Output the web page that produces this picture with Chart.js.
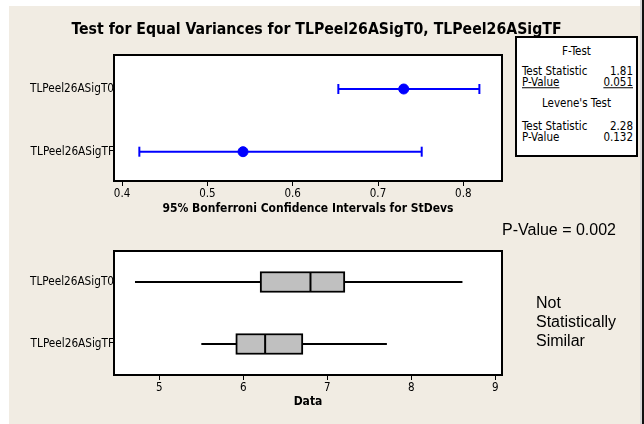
<!DOCTYPE html>
<html>
<head>
<meta charset="utf-8">
<script src="https://cdn.jsdelivr.net/npm/chart.js@4.4.0/dist/chart.umd.min.js"></script>
<style>
  html, body { margin: 0; padding: 0; background: #fff; }
  #page { position: relative; width: 644px; height: 424px; overflow: hidden; background: #fff; }
  #panel { position: absolute; left: 9px; top: 6px; width: 631px; height: 418px; background: #f1ece3; }
  #edgeLight { position: absolute; left: 640px; top: 0; width: 2px; height: 424px; background: #d8d8d8; }
  #edgeDark { position: absolute; left: 642px; top: 0; width: 2px; height: 424px; background: #111; }
  canvas { position: absolute; left: 0; }
  .t { position: absolute; white-space: nowrap; color: #000; transform: translateY(-50%); line-height: 1; }
  .tah { font-family: "DejaVu Sans Condensed", "DejaVu Sans", sans-serif; font-stretch: condensed; }
  .ari { font-family: "Liberation Sans", Arial, sans-serif; font-size: 16px; }
  #title { left: 0; width: 633px; top: 29px; text-align: center; font-weight: bold; font-size: 15.7px; }
  #stats { position: absolute; left: 515px; top: 36px; width: 123px; height: 121px; box-sizing: border-box;
           border: 2px solid #000; background: #fff; }
  .st { font-size: 11.5px; }
  .u { text-decoration: underline; }
</style>
</head>
<body>
<div id="page">
  <div id="panel"></div>
  <div id="edgeLight"></div>
  <div id="edgeDark"></div>
  <canvas id="sdChart" width="644" height="220" style="top:0"></canvas>
  <canvas id="boxChart" width="644" height="204" style="top:220px"></canvas>

  <div id="title" class="t tah">Test for Equal Variances for TLPeel26ASigT0, TLPeel26ASigTF</div>

  <div id="stats"></div>
  <div class="t tah st" style="left:516px;width:121px;text-align:center;top:52px">F-Test</div>
  <div class="t tah st" style="left:522px;top:72px">Test Statistic</div>
  <div class="t tah st" style="right:11px;top:72px">1.81</div>
  <div class="t tah st u" style="left:522px;top:83px">P-Value</div>
  <div class="t tah st u" style="right:11px;top:83px">0.051</div>
  <div class="t tah st" style="left:516px;width:121px;text-align:center;top:104px">Levene's Test</div>
  <div class="t tah st" style="left:522px;top:127px">Test Statistic</div>
  <div class="t tah st" style="right:11px;top:127px">2.28</div>
  <div class="t tah st" style="left:522px;top:137.5px">P-Value</div>
  <div class="t tah st" style="right:11px;top:137.5px">0.132</div>

  <div class="t ari" style="left:502px;top:230px">P-Value = 0.002</div>
  <div class="t ari" style="left:536px;top:303px">Not</div>
  <div class="t ari" style="left:536px;top:322px">Statistically</div>
  <div class="t ari" style="left:536px;top:341px">Similar</div>
</div>

<script>
// groups (shared by both panels)
const groups = ['TLPeel26ASigT0', 'TLPeel26ASigTF'];

// 95% Bonferroni confidence intervals for StDevs
const sdLower = [0.6535, 0.4203];
const sdEst = [0.7301, 0.5418];
const sdUpper = [0.8188, 0.7512];
const sdTicks = [0.4, 0.5, 0.6, 0.7, 0.8];

// boxplot of the data
const whiskLow = [4.71, 5.50];
const q1 = [6.20, 5.91];
const med = [6.80, 6.26];
const q3 = [7.21, 6.71];
const whiskHigh = [8.61, 7.71];
const dataTicks = [5, 6, 7, 8, 9];

const tahoma = '"DejaVu Sans Condensed", "DejaVu Sans", sans-serif';
const blue = '#0000ff';
Chart.defaults.font.family = tahoma;
Chart.defaults.color = '#000';

// white plot area with black frame
const framePlugin = {
    id: 'frame',
    beforeDraw(chart) {
        const { ctx, chartArea: a } = chart;
        ctx.save();
        ctx.fillStyle = '#fff';
        ctx.fillRect(a.left, a.top, a.width, a.height);
        ctx.restore();
    },
    afterDraw(chart) {
        const { ctx, chartArea: a } = chart;
        ctx.save();
        ctx.strokeStyle = '#000';
        ctx.lineWidth = 2;
        ctx.strokeRect(a.left, a.top, a.width, a.height);
        ctx.restore();
    }
};

const xGrid = { drawOnChartArea: false, drawTicks: true, tickLength: 5, color: '#000', lineWidth: 1 };
const yGrid = { display: false, drawTicks: false };

// 1. StDev confidence intervals
new Chart(document.getElementById('sdChart'), {
    type: 'scatter',
    data: {
        datasets: [
            ...groups.map((g, i) => ({
                label: g + ' CI',
                data: [{ x: sdLower[i], y: i }, { x: sdUpper[i], y: i }],
                showLine: true,
                borderColor: blue,
                borderWidth: 2,
                pointStyle: 'line',
                pointRotation: 90,
                pointRadius: 5,
                pointBorderWidth: 2,
                pointBorderColor: blue,
                order: 1
            })),
            {
                label: 'StDev',
                data: groups.map((g, i) => ({ x: sdEst[i], y: i })),
                pointRadius: 5,
                backgroundColor: blue,
                borderColor: blue,
                order: 0
            }
        ]
    },
    options: {
        responsive: false,
        animation: false,
        layout: { padding: { left: 0, right: 142, top: 55, bottom: 0 } },
        plugins: { legend: { display: false }, tooltip: { enabled: false } },
        scales: {
            x: {
                type: 'linear',
                min: 0.3906,
                max: 0.8453,
                afterBuildTicks: s => { s.ticks = sdTicks.map(v => ({ value: v })); },
                ticks: { font: { size: 11.5 }, padding: 1, callback: v => v.toFixed(1) },
                grid: xGrid,
                border: { display: false },
                title: {
                    display: true,
                    text: '95% Bonferroni Confidence Intervals for StDevs',
                    font: { size: 12, weight: 'bold' },
                    padding: { top: 0, bottom: 4 }
                },
                afterFit: s => { s.height = 39; }
            },
            y: {
                type: 'linear',
                reverse: true,
                min: -0.5423,
                max: 1.4673,
                afterBuildTicks: s => { s.ticks = groups.map((g, i) => ({ value: i })); },
                ticks: { font: { size: 11.7 }, padding: 0, callback: v => groups[v] },
                grid: yGrid,
                border: { display: false },
                afterFit: s => { s.width = 114; }
            }
        }
    },
    plugins: [framePlugin]
});

// 2. Boxplot
new Chart(document.getElementById('boxChart'), {
    type: 'bar',
    data: {
        labels: groups,
        datasets: [
            {
                type: 'line',
                label: 'Median',
                data: groups.map((g, i) => ({ x: med[i], y: g })),
                showLine: false,
                pointStyle: 'line',
                pointRotation: 90,
                pointRadius: 10,
                pointBorderWidth: 2,
                pointBorderColor: '#000',
                order: 0
            },
            {
                label: 'IQR',
                data: groups.map((g, i) => [q1[i], q3[i]]),
                backgroundColor: '#c0c0c0',
                borderColor: '#000',
                borderWidth: 2,
                borderSkipped: false,
                barThickness: 21,
                order: 1
            },
            ...groups.map((g, i) => ({
                type: 'line',
                label: g + ' whiskers',
                data: [{ x: whiskLow[i], y: g }, { x: whiskHigh[i], y: g }],
                borderColor: '#000',
                borderWidth: 2,
                pointRadius: 0,
                order: 2
            }))
        ]
    },
    options: {
        indexAxis: 'y',
        responsive: false,
        animation: false,
        layout: { padding: { left: 0, right: 142, top: 31, bottom: 0 } },
        plugins: { legend: { display: false }, tooltip: { enabled: false } },
        scales: {
            x: {
                type: 'linear',
                min: 4.46,
                max: 9.081,
                afterBuildTicks: s => { s.ticks = dataTicks.map(v => ({ value: v })); },
                ticks: { font: { size: 11.5 }, padding: 1 },
                grid: xGrid,
                border: { display: false },
                title: {
                    display: true,
                    text: 'Data',
                    font: { size: 12, weight: 'bold' },
                    padding: { top: 0, bottom: 14.5 }
                },
                afterFit: s => { s.height = 49; }
            },
            y: {
                type: 'category',
                offset: true,
                ticks: { font: { size: 11.7 }, padding: 0 },
                grid: yGrid,
                border: { display: false },
                afterFit: s => { s.width = 114; }
            }
        }
    },
    plugins: [framePlugin]
});
</script>
</body>
</html>
